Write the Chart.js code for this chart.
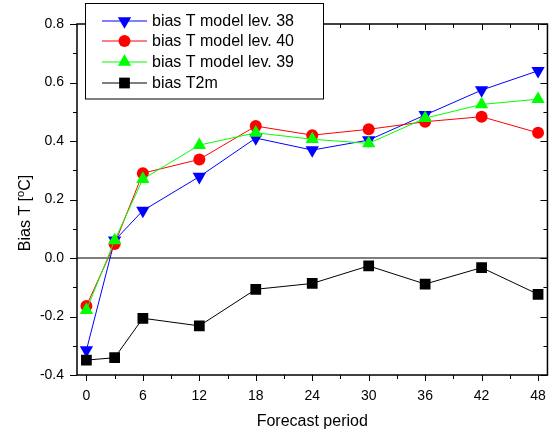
<!DOCTYPE html>
<html>
<head>
<meta charset="utf-8">
<script src="https://cdn.jsdelivr.net/npm/chart.js"></script>
<style>
  body { margin: 0; background: #fff; }
  canvas { display: block; }
</style>
</head>
<body>
<canvas id="bias" width="559" height="435"></canvas>
<script>
// Forecast period (hours) and bias values.
const hours = [0, 3, 6, 12, 18, 24, 30, 36, 42, 48];
const lev38 = [-0.315, 0.06, 0.162, 0.278, 0.41, 0.369, 0.403, 0.489, 0.574, 0.64];
const lev40 = [-0.164, 0.048, 0.29, 0.337, 0.451, 0.42, 0.44, 0.466, 0.483, 0.428];
const lev39 = [-0.178, 0.06, 0.27, 0.386, 0.428, 0.406, 0.392, 0.478, 0.525, 0.543];
const t2m = [-0.349, -0.341, -0.206, -0.232, -0.107, -0.087, -0.027, -0.089, -0.033, -0.124];

const xTicks = [0, 6, 12, 18, 24, 30, 36, 42, 48];
const xMinorTicks = [3, 9, 15, 21, 27, 33, 39, 45];
const yTicks = [-0.4, -0.2, 0.0, 0.2, 0.4, 0.6, 0.8];
const yMinorTicks = [-0.3, -0.1, 0.1, 0.3, 0.5, 0.7];

const FONT = "'Liberation Sans', Arial, sans-serif";

function series(label, values, color, style, rotation, radius, order) {
    return {
        label: label,
        data: hours.map((h, i) => ({x: h, y: values[i]})),
        borderColor: color,
        backgroundColor: color,
        borderWidth: 1,
        pointStyle: style,
        pointRotation: rotation,
        pointRadius: radius,
        pointHoverRadius: radius,
        pointBorderWidth: 0,
        order: order,
    };
}

const datasets = [
    series("bias T model lev. 38", lev38, "#0000ff", "triangle", 180, 7.7, 3),
    series("bias T model lev. 40", lev40, "#ff0000", "circle", 0, 6, 2),
    series("bias T model lev. 39", lev39, "#00ff00", "triangle", 0, 7.7, 1),
    series("bias T2m", t2m, "#000000", "rect", 0, 7.6, 0),
];

// Frame, zero line, tick marks, axis titles and the boxed legend.
const decorations = {
    id: "decorations",
    beforeDatasetsDraw(chart) {
        const {ctx, chartArea, scales} = chart;
        const y0 = scales.y.getPixelForValue(0);
        ctx.save();
        ctx.strokeStyle = "#000";
        ctx.lineWidth = 1.2;
        ctx.beginPath();
        ctx.moveTo(chartArea.left, y0);
        ctx.lineTo(chartArea.right, y0);
        ctx.stroke();
        ctx.restore();
    },
    afterDraw(chart) {
        const {ctx, chartArea, scales} = chart;
        const {left, right, top, bottom} = chartArea;
        ctx.save();
        ctx.strokeStyle = "#000";
        ctx.lineWidth = 1.5;
        ctx.strokeRect(left, top, right - left, bottom - top);

        ctx.lineWidth = 1;
        ctx.beginPath();
        const xTick = (v, len) => {
            const px = Math.round(scales.x.getPixelForValue(v)) + 0.5;
            ctx.moveTo(px, bottom);
            ctx.lineTo(px, bottom + len);
            ctx.moveTo(px, top);
            ctx.lineTo(px, top + len);
        };
        const yTick = (v, len) => {
            const py = Math.round(scales.y.getPixelForValue(v)) + 0.5;
            ctx.moveTo(left, py);
            ctx.lineTo(left - len, py);
            ctx.moveTo(right, py);
            ctx.lineTo(right - len, py);
        };
        xTicks.forEach(v => xTick(v, 6));
        xMinorTicks.forEach(v => xTick(v, 4));
        yTicks.forEach(v => yTick(v, 7));
        yMinorTicks.forEach(v => yTick(v, 4));
        ctx.stroke();

        // Axis titles
        ctx.fillStyle = "#000";
        ctx.font = "16px " + FONT;
        ctx.textAlign = "center";
        ctx.textBaseline = "alphabetic";
        ctx.fillText("Forecast period", (left + right) / 2, 426);

        ctx.save();
        ctx.translate(30, 213);
        ctx.rotate(-Math.PI / 2);
        const a = "Bias T [", b = "o", c = "C]";
        ctx.font = "16px " + FONT;
        const wa = ctx.measureText(a).width;
        const wc = ctx.measureText(c).width;
        ctx.font = "11px " + FONT;
        const wb = ctx.measureText(b).width;
        let x = -(wa + wb + wc) / 2;
        ctx.textAlign = "left";
        ctx.font = "16px " + FONT;
        ctx.fillText(a, x, 0);
        x += wa;
        ctx.font = "11px " + FONT;
        ctx.fillText(b, x, -6);
        x += wb;
        ctx.font = "16px " + FONT;
        ctx.fillText(c, x, 0);
        ctx.restore();

        // Legend
        ctx.fillStyle = "#fff";
        ctx.fillRect(85, 3.5, 238, 95.5);
        ctx.strokeStyle = "#000";
        ctx.lineWidth = 1;
        ctx.strokeRect(85.5, 3.5, 238, 95.5);
        const rows = [21, 41, 62, 83];
        const legendOrder = [0, 1, 2, 3];
        legendOrder.forEach((d, i) => {
            const ds = chart.data.datasets[d];
            const y = rows[i];
            ctx.strokeStyle = ds.borderColor;
            ctx.lineWidth = 1.2;
            ctx.beginPath();
            ctx.moveTo(102, y);
            ctx.lineTo(147, y);
            ctx.stroke();
            ctx.fillStyle = ds.backgroundColor;
            Chart.helpers.drawPoint(ctx, {
                pointStyle: ds.pointStyle,
                rotation: ds.pointRotation,
                radius: ds.pointRadius,
                borderWidth: 0,
            }, 124.5, y);
            ctx.fillStyle = "#000";
            ctx.font = "16px " + FONT;
            ctx.textAlign = "left";
            ctx.textBaseline = "middle";
            ctx.fillText(ds.label, 152, y + 1);
        });
        ctx.restore();
    }
};

new Chart(document.getElementById("bias"), {
    type: "line",
    data: {datasets: datasets},
    options: {
        responsive: false,
        animation: false,
        layout: {padding: {top: 24, right: 8, left: 0, bottom: 0}},
        plugins: {
            legend: {display: false},
            tooltip: {enabled: false},
        },
        scales: {
            x: {
                type: "linear",
                min: -1,
                max: 49,
                afterBuildTicks: scale => { scale.ticks = xTicks.map(v => ({value: v})); },
                afterFit: scale => { scale.height = 60; },
                grid: {display: false, drawTicks: false},
                border: {display: false},
                ticks: {
                    padding: 13,
                    color: "#000",
                    font: {family: FONT, size: 14},
                    maxRotation: 0,
                    callback: v => String(v),
                },
            },
            y: {
                type: "linear",
                min: -0.4,
                max: 0.8,
                afterBuildTicks: scale => { scale.ticks = yTicks.map(v => ({value: v})); },
                afterFit: scale => { scale.width = 77; },
                grid: {display: false, drawTicks: false},
                border: {display: false},
                ticks: {
                    padding: 13,
                    color: "#000",
                    font: {family: FONT, size: 14},
                    callback: v => v.toFixed(1),
                },
            },
        },
    },
    plugins: [decorations],
});
</script>
</body>
</html>
